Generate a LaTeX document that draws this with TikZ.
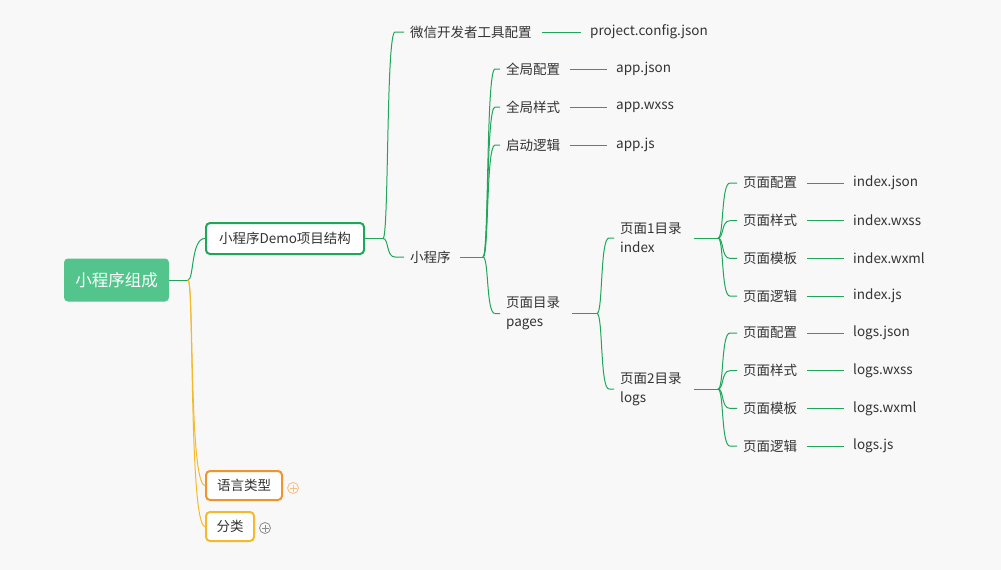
\documentclass[tikz,border=0pt]{standalone}
\usepackage{fontspec}
\setmainfont{Noto Sans CJK SC}
\usetikzlibrary{calc}
\definecolor{lg}{HTML}{1FA65A}
\definecolor{og}{HTML}{F0952C}
\definecolor{yl}{HTML}{F5BA2C}
\definecolor{rootc}{HTML}{52C48C}
\definecolor{bgc}{HTML}{F8F8F8}
\definecolor{tc}{HTML}{333333}
\begin{document}
\begin{tikzpicture}[x=1pt,y=-1pt,
  txt/.style={anchor=west,inner sep=0pt,font=\fontsize{13.5}{19}\selectfont,text=tc,align=left},
  ln/.style={draw=lg,line width=1pt},
  plus/.style={circle,draw,inner sep=0pt,minimum size=11pt,line width=0.8pt}]
\fill[bgc] (0,0) rectangle (1001,570);
\useasboundingbox (0,0) rectangle (1001,570);
\newcommand{\brc}[3][lg]{\draw[ln,draw=#1] (#2) .. controls ($(#2)+(6,0)$) and ($(#2|-#3.west)+(3,0)$) .. ($(#2|-#3.west)+(12,0)$) -- ([xshift=-6pt]#3.west);}
\newcommand{\hl}[2]{\draw[ln] ([xshift=10pt]#1.east) -- ([xshift=-9pt]#2.west);}
% root
\node[fill=rootc,rounded corners=4pt,minimum width=105pt,minimum height=43pt,text=white,font=\fontsize{16.5}{20}\selectfont] (root) at (116.5,280) {小程序组成};
\node[draw=lg,line width=2pt,fill=white,rounded corners=4pt,minimum width=158pt,minimum height=31pt,font=\fontsize{13.5}{16}\selectfont,text=tc] (demo) at (285,238.5) {小程序Demo项目结构};
\node[draw=og,line width=2pt,fill=white,rounded corners=4pt,minimum width=76pt,minimum height=29pt,font=\fontsize{13.5}{16}\selectfont,text=tc] (lang) at (244,485.5) {语言类型};
\node[draw=yl,line width=2pt,fill=white,rounded corners=4pt,minimum width=48pt,minimum height=29pt,font=\fontsize{13.5}{16}\selectfont,text=tc] (cls) at (230,526.5) {分类};
\node[plus,draw=og!60] (p1) at (293,488) {};
\draw[og!60,line width=0.8pt] ($(p1)+(-3.5,0)$) -- ($(p1)+(3.5,0)$) ($(p1)+(0,-3.5)$) -- ($(p1)+(0,3.5)$);
\node[plus,draw=black!45] (p2) at (265,528) {};
\draw[black!45,line width=0.8pt] ($(p2)+(-3.5,0)$) -- ($(p2)+(3.5,0)$) ($(p2)+(0,-3.5)$) -- ($(p2)+(0,3.5)$);
\coordinate (h0) at (188,280);
\draw[ln] (root.east) -- (h0);
\draw[ln] (h0) .. controls (194,280) and (191,238) .. (demo.west);
\draw[ln,draw=yl] (h0) .. controls (194,280) and (189,485) .. (lang.west);
\draw[ln,draw=yl] (h0) .. controls (194,280) and (189,526) .. (cls.west);
% level 2
\node[txt] (wx) at (410,32) {微信开发者工具配置};
\node[txt] (pc) at (590,32) {project.config.json};
\node[txt] (xcx) at (410,257) {小程序};
\coordinate (h1) at (383,238.5);
\draw[ln] (demo.east) -- (h1);
\brc{h1}{wx}\brc{h1}{xcx}
\hl{wx}{pc}
% level 3
\coordinate (h2) at (483,257);
\draw[ln] ([xshift=9pt]xcx.east) -- (h2);
\node[txt] (a1) at (506,69) {全局配置};
\node[txt] (a2) at (506,107) {全局样式};
\node[txt] (a3) at (506,145) {启动逻辑};
\node[txt] (pg) at (506,313.5) {页面目录\\pages};
\node[txt] (f1) at (616,69) {app.json};
\node[txt] (f2) at (616,107) {app.wxss};
\node[txt] (f3) at (616,145) {app.js};
\brc{h2}{a1}\brc{h2}{a2}\brc{h2}{a3}\brc{h2}{pg}
\hl{a1}{f1}\hl{a2}{f2}\hl{a3}{f3}
% level 4
\coordinate (h3) at (597,313.5);
\draw[ln] ([xshift=12pt]pg.east) -- (h3);
\node[txt] (d1) at (620,238) {页面1目录\\index};
\node[txt] (d2) at (620,389) {页面2目录\\logs};
\brc{h3}{d1}\brc{h3}{d2}
\coordinate (h4) at (718,238);
\draw[ln] ([xshift=12pt]d1.east) -- (h4);
\coordinate (h5) at (718,389);
\draw[ln] ([xshift=12pt]d2.east) -- (h5);
\foreach \hub/\pre/\ya/\fn in {h4/i/183/index,h5/l/333/logs}{
  \node[txt] (\pre1) at (743,\ya) {页面配置};
  \node[txt] (\pre2) at (743,\ya+37.7) {页面样式};
  \node[txt] (\pre3) at (743,\ya+75.4) {页面模板};
  \node[txt] (\pre4) at (743,\ya+113.1) {页面逻辑};
  \node[txt] (\pre f1) at (853,\ya) {\fn.json};
  \node[txt] (\pre f2) at (853,\ya+37.7) {\fn.wxss};
  \node[txt] (\pre f3) at (853,\ya+75.4) {\fn.wxml};
  \node[txt] (\pre f4) at (853,\ya+113.1) {\fn.js};
  \foreach \k in {1,2,3,4}{
    \brc{\hub}{\pre\k}
    \hl{\pre\k}{\pre f\k}
  }
}
\end{tikzpicture}
\end{document}
